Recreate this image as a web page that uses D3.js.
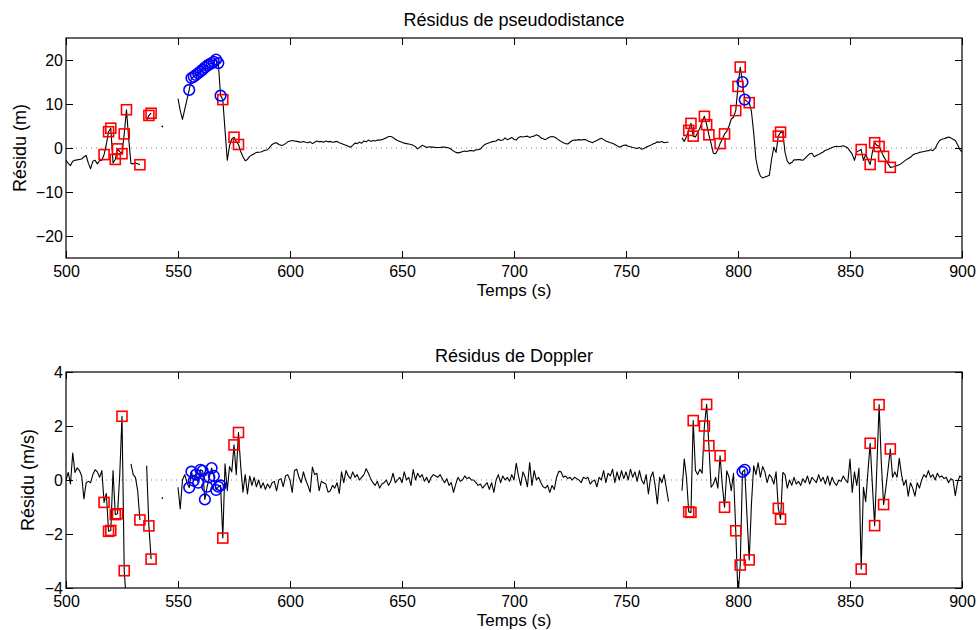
<!DOCTYPE html>
<html><head><meta charset="utf-8">
<script src="https://cdn.jsdelivr.net/npm/d3@7"></script>
<style>
body{margin:0;background:#fff}
svg{display:block}
text{font-family:"Liberation Sans",Arial,Helvetica,sans-serif;fill:#000}
</style>
</head><body><svg id="c" width="979" height="630"></svg>
<script>
// ---------------- DATA ----------------
const tStart = 500; // first sample time (s), 1 s sampling
const xTicks = [500, 550, 600, 650, 700, 750, 800, 850, 900];
const pseudoYTicks = [-20, -10, 0, 10, 20];
const dopplerYTicks = [-4, -2, 0, 2, 4];

// pseudorange residuals (m), t = 500..900
const pseudoValues = [
 -2.8,-3.5,-4.0,-3.0,-2.8,-2.7,-2.6,-2.5,-2.0,-1.7,
 -3.5,-4.7,-3.0,-2.8,-3.6,-2.9,-2.8,-1.5,0.8,3.7,
 4.5,-3.4,-2.6,-0.2,-0.8,-1.3,3.2,8.7,2.0,-3.5,
 -3.6,-3.4,-3.6,-3.8,null,null,6.3,7.4,7.9,null,
 null,null,null,4.9,null,null,null,null,null,null,
 11.2,8.5,6.5,8.8,11.0,13.2,15.9,16.2,16.6,17.0,
 17.4,17.8,18.3,18.7,19.0,19.3,19.6,20.1,19.3,11.9,
 11.0,4.0,-2.8,0.5,2.0,2.45,1.5,0.8,-0.8,-2.0,
 -2.9,-2.6,-1.9,-1.6,-1.3,-1.0,-0.95,-0.9,-0.7,-0.5,
 -0.4,0.2,0.8,1.1,1.2,0.8,0.6,0.7,1.0,1.4,
 1.6,1.7,1.6,1.5,1.4,1.3,1.5,1.3,1.2,1.4,
 1.0,1.3,1.6,1.4,1.5,1.3,1.6,1.4,1.5,1.3,
 1.4,1.5,1.2,1.0,0.8,0.6,0.4,0.2,0.6,1.1,
 1.0,1.3,1.1,1.6,1.4,1.8,1.5,1.7,1.6,1.8,
 1.8,1.9,2.1,2.3,2.6,2.6,2.4,2.0,1.7,1.5,
 1.3,1.1,1.0,0.9,0.8,0.6,0.3,-0.2,0.2,0.6,
 0.4,0.1,0.3,0.2,0.2,0.1,0.1,0.1,0.2,0.2,
 0.1,0.0,-0.3,-0.7,-1.0,-1.1,-1.0,-0.8,-0.7,-0.8,
 -0.6,-0.6,-0.7,-0.4,-0.4,-0.2,0.3,0.8,1.0,1.2,
 1.4,1.5,1.6,2.0,1.7,1.8,2.3,1.9,2.1,2.4,
 2.0,1.8,2.4,2.6,2.5,2.6,2.7,2.4,2.6,2.7,
 3.0,2.8,2.3,2.1,1.9,2.2,2.5,2.6,2.5,2.2,
 1.8,1.5,1.2,1.0,0.9,1.3,1.7,1.8,1.8,1.9,
 1.8,1.9,1.9,1.6,1.4,1.2,1.5,1.7,2.0,2.2,
 1.9,1.6,1.4,1.2,1.1,0.8,0.5,0.2,0.4,0.6,
 0.7,0.4,0.3,0.1,0.0,-0.1,0.1,-0.3,-0.1,0.2,
 0.4,0.6,0.9,1.1,1.4,1.3,1.5,1.2,1.3,1.3,
 null,null,null,null,null,2.3,1.5,2.6,4.0,5.6,
 2.7,2.5,3.5,4.5,6.0,7.2,5.3,3.0,1.0,-1.2,
 -1.3,-0.4,1.0,2.0,3.2,3.8,5.0,6.6,7.0,8.5,
 14.0,18.4,15.0,11.0,10.6,10.3,8.3,3.5,-2.5,-5.0,
 -6.4,-6.8,-6.6,-6.4,-6.2,-2.5,0.2,-1.0,2.7,3.6,
 3.5,-1.0,-3.0,-3.6,-3.3,-2.7,-2.7,-2.6,-2.7,-2.8,
 -2.3,-1.8,-1.3,-1.2,-2.0,-1.7,-1.5,-1.2,-0.9,-0.5,
 -0.4,-0.1,0.1,0.3,0.4,0.3,0.4,0.5,0.3,0.0,
 -0.7,-1.4,-2.8,-0.9,-0.6,-0.35,-2.8,-1.5,-2.6,-3.75,
 -0.95,1.2,0.6,0.35,-0.8,-1.9,-2.8,-3.6,-4.4,-4.3,
 -4.2,-4.0,-3.8,-3.5,-3.1,-2.7,-2.4,-2.1,-1.6,-1.3,
 -1.2,-1.0,-0.9,-0.8,-0.7,-0.6,-0.4,-0.6,-0.1,0.9,
 1.7,2.0,2.1,2.3,2.5,2.3,2.0,1.7,0.8,-0.3,
 -0.95
];

// Doppler residuals (m/s), t = 500..900
const dopplerValues = [
 0.0,0.28,-0.15,1.0,0.28,0.45,0.35,0.15,-0.7,-0.1,
 -0.05,-0.1,0.2,0.38,0.3,0.1,0.35,-0.83,-0.5,-1.9,
 -1.87,0.35,-1.28,-1.25,0.2,2.36,-3.36,-4.6,null,0.6,
 0.2,0.1,-0.4,-1.48,null,null,0.53,-1.7,-2.93,null,
 null,null,null,-0.67,null,null,null,null,null,null,
 -0.27,-1.07,0.0,0.2,-0.1,-0.28,0.31,-0.03,0.2,-0.1,
 0.38,0.34,-0.72,-0.25,0.1,0.44,0.15,-0.37,-0.25,-0.2,
 -2.15,0.6,-0.4,0.5,0.3,1.3,0.2,1.76,0.5,-0.45,
 0.2,-0.52,0.15,-0.2,0.1,-0.25,0.0,-0.3,-0.1,-0.35,
 -0.15,-0.3,-0.1,-0.05,-0.4,0.0,0.05,-0.25,0.15,0.2,
 0.0,-0.46,0.35,0.4,0.1,-0.1,0.3,0.0,-0.2,-0.45,
 0.48,0.2,0.25,-0.4,-0.05,-0.1,-0.15,-0.45,-0.4,-0.2,
 -0.3,-0.1,-0.5,0.3,-0.1,0.35,0.15,0.05,0.3,0.1,
 0.2,0.0,0.1,0.2,0.42,0.25,0.05,-0.1,-0.2,-0.05,
 -0.3,-0.15,-0.1,0.0,-0.2,-0.05,0.25,-0.1,0.0,0.1,
 -0.1,0.3,0.0,0.1,-0.2,0.39,0.0,0.25,0.1,0.2,
 -0.05,0.1,-0.1,0.1,0.2,0.15,0.1,0.2,0.05,-0.1,
 0.05,-0.2,-0.1,-0.46,-0.15,0.1,-0.05,0.0,0.15,0.05,
 0.1,0.0,0.0,-0.1,-0.2,-0.15,-0.3,-0.2,-0.1,-0.35,
 -0.1,-0.46,0.0,0.2,-0.1,0.15,0.0,0.1,-0.05,0.2,
 0.0,0.62,0.15,-0.2,0.3,0.1,-0.25,0.65,-0.2,0.35,
 0.0,0.1,-0.1,-0.25,-0.3,-0.2,-0.46,-0.2,-0.35,0.1,
 0.32,0.3,0.1,0.15,0.05,0.1,0.0,0.1,0.05,0.0,
 -0.1,0.1,0.05,0.1,-0.15,-0.05,0.0,-0.25,0.1,0.0,
 0.35,-0.1,0.25,0.15,0.4,-0.1,0.3,0.0,0.35,0.05,
 0.3,0.0,0.4,0.1,0.3,-0.05,0.35,0.0,-0.15,0.2,
 -0.52,0.1,0.3,-0.2,-0.89,0.1,-0.1,0.2,-0.3,-0.8,
 null,null,null,null,null,-0.4,0.78,0.1,-1.18,-1.2,
 2.2,0.35,0.2,0.4,0.25,2.0,2.8,1.27,-0.27,-0.15,
 0.1,-0.3,0.9,-0.2,-1.01,0.34,0.1,-0.4,0.25,-1.88,
 -4.3,-3.15,0.3,0.38,-1.3,-2.96,-0.9,0.53,0.2,0.64,
 0.1,0.5,0.3,-0.1,0.2,0.1,-0.15,0.3,-1.05,-1.45,
 0.28,0.2,-0.3,0.0,-0.2,0.1,-0.15,-0.05,-0.2,0.05,
 -0.1,0.15,-0.15,0.1,0.0,-0.1,0.2,-0.05,0.1,-0.15,
 0.15,-0.2,0.1,-0.1,-0.2,0.0,-0.05,0.15,0.0,-0.1,
 0.78,-0.46,0.3,-0.2,0.44,-3.3,-0.27,-0.8,0.3,1.36,
 -0.2,-1.69,0.5,2.79,0.6,-0.91,-0.3,0.4,1.15,0.1,
 0.3,0.1,0.8,0.2,-0.2,0.0,-0.6,-0.1,-0.3,-0.6,
 -0.1,-0.3,0.0,0.2,0.1,0.35,0.1,0.2,0.0,0.25,
 0.1,0.15,0.05,0.1,-0.1,0.05,0.0,-0.58,-0.1,0.15,
 0.1
];

// epochs flagged with red squares / blue circles (same epochs on both panels)
const redMarkerTimes = [517,519,520,522,523,525,526,527,533,537,538,570,575,577,
  778,779,780,785,786,787,792,794,799,800,801,805,818,819,855,859,861,863,865,868];
const blueMarkerTimes = [555,556,557,558,559,560,561,562,563,564,565,566,567,568,569,802,803];

// ---------------- DRAWING ----------------
const svg = d3.select('#c');
const minus = s => String(s).replace('-', '\u2212');

function panel(o) {
  const g = svg.append('g');
  const x = d3.scaleLinear().domain([500, 900]).range([o.left, o.right]);
  const y = d3.scaleLinear().domain(o.yDomain).range([o.bottom, o.top]);
  const pts = o.values.map((v, i) => ({ t: tStart + i, v }));
  const clipId = 'clip' + o.id;
  g.append('clipPath').attr('id', clipId).append('rect')
    .attr('x', o.left).attr('y', o.top).attr('width', o.right - o.left).attr('height', o.bottom - o.top);

  const plot = g.append('g').attr('clip-path', `url(#${clipId})`);
  plot.append('line')
    .attr('x1', x(500)).attr('x2', x(900)).attr('y1', y(0)).attr('y2', y(0))
    .attr('stroke', '#7f7f7f').attr('stroke-width', 1).attr('stroke-dasharray', '1,4');

  const line = d3.line().defined(d => d.v != null).x(d => x(d.t)).y(d => y(d.v));
  plot.append('path').datum(pts).attr('d', line)
    .attr('fill', 'none').attr('stroke', '#000').attr('stroke-width', 1.1).attr('stroke-linejoin', 'round');

  // isolated samples
  const iso = pts.filter((d, i) => d.v != null && (i === 0 || pts[i - 1].v == null) && (i === pts.length - 1 || pts[i + 1].v == null));
  plot.selectAll('circle.iso').data(iso).join('circle').attr('class', 'iso')
    .attr('cx', d => x(d.t)).attr('cy', d => y(d.v)).attr('r', 0.9).attr('fill', '#000');

  const inDom = d => d.v != null && d.v >= o.yDomain[0] && d.v <= o.yDomain[1];
  const reds = redMarkerTimes.map(t => pts[t - tStart]).filter(inDom);
  const blues = blueMarkerTimes.map(t => pts[t - tStart]).filter(inDom);
  plot.selectAll('rect.sq').data(reds).join('rect').attr('class', 'sq')
    .attr('x', d => x(d.t) - 5).attr('y', d => y(d.v) - 5).attr('width', 10).attr('height', 10)
    .attr('fill', 'none').attr('stroke', '#ff0000').attr('stroke-width', 1.6);
  plot.selectAll('circle.ci').data(blues).join('circle').attr('class', 'ci')
    .attr('cx', d => x(d.t)).attr('cy', d => y(d.v)).attr('r', 5.3)
    .attr('fill', 'none').attr('stroke', '#0000ff').attr('stroke-width', 1.6);

  // axes (ticks inward on all four sides)
  const fs = '16px';
  const bx = g.append('g').attr('transform', `translate(0,${o.bottom})`)
    .call(d3.axisBottom(x).tickValues(xTicks).tickSize(-7).tickPadding(8).tickFormat(d3.format('d')));
  const lx = g.append('g').attr('transform', `translate(${o.left},0)`)
    .call(d3.axisLeft(y).tickValues(o.yTicks).tickSize(-7).tickPadding(3).tickFormat(minus));
  const tx = g.append('g').attr('transform', `translate(0,${o.top})`)
    .call(d3.axisTop(x).tickValues(xTicks).tickSize(-7).tickFormat(''));
  const rx = g.append('g').attr('transform', `translate(${o.right},0)`)
    .call(d3.axisRight(y).tickValues(o.yTicks).tickSize(-7).tickFormat(''));
  [bx, lx, tx, rx].forEach(a => {
    a.select('.domain').remove();
    a.selectAll('line').attr('stroke', '#000');
    a.selectAll('text').attr('font-size', fs).attr('font-family', '"Liberation Sans",Arial,sans-serif').attr('fill', '#000');
  });
  g.append('rect').attr('x', o.left).attr('y', o.top).attr('width', o.right - o.left).attr('height', o.bottom - o.top)
    .attr('fill', 'none').attr('stroke', '#000').attr('stroke-width', 1.2);

  g.append('text').attr('x', (o.left + o.right) / 2).attr('y', o.titleY).attr('text-anchor', 'middle')
    .attr('font-size', '18px').text(o.title);
  g.append('text').attr('x', (o.left + o.right) / 2).attr('y', o.xlabelY).attr('text-anchor', 'middle')
    .attr('font-size', '17px').text('Temps (s)');
  g.append('text').attr('transform', `translate(${o.ylabelX},${(o.top + o.bottom) / 2}) rotate(-90)`)
    .attr('text-anchor', 'middle').attr('font-size', '18px').text(o.ylabel);
}

panel({ id: 'p', values: pseudoValues, left: 66, right: 962, top: 38, bottom: 258,
  yDomain: [-25, 25], yTicks: pseudoYTicks, title: 'Résidus de pseudodistance',
  ylabel: 'Résidu (m)', titleY: 26, xlabelY: 296, ylabelX: 26 });
panel({ id: 'd', values: dopplerValues, left: 66, right: 962, top: 372, bottom: 588,
  yDomain: [-4, 4], yTicks: dopplerYTicks, title: 'Résidus de Doppler',
  ylabel: 'Résidu (m/s)', titleY: 362, xlabelY: 626, ylabelX: 34 });
</script>
</body></html>
